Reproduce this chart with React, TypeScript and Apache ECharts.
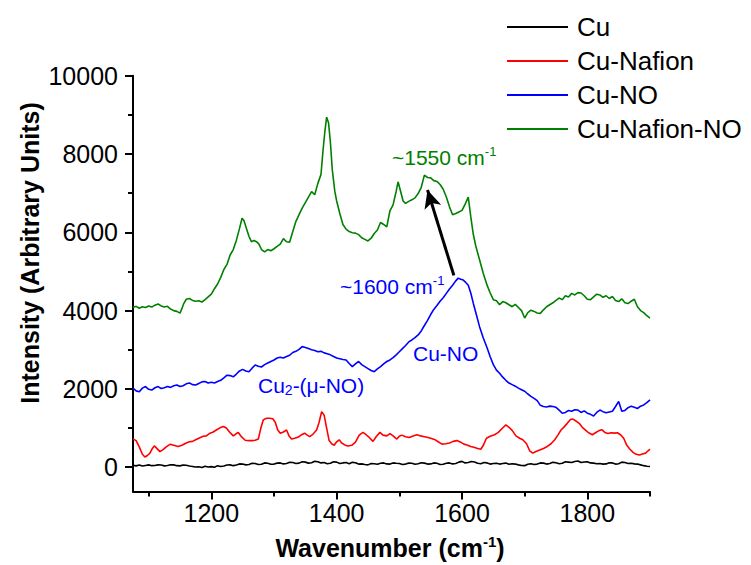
import React, { useEffect, useRef } from 'react';
import * as echarts from 'echarts';

const FONT = 'Liberation Sans, Arial, Helvetica, sans-serif';

const seriesNames = ['Cu', 'Cu-Nafion', 'Cu-NO', 'Cu-Nafion-NO'];
const seriesColors = ['#000000', '#ff0000', '#0000ff', '#008000'];

const xMajorTicks = [1200, 1400, 1600, 1800];
const xMinorTicks = [1100, 1300, 1500, 1700, 1900];
const yMajorTicks = [0, 2000, 4000, 6000, 8000, 10000];
const yMinorTicks = [1000, 3000, 5000, 7000, 9000];

const cu: [number, number][] = [
  [1075, 50], [1080, 35], [1085, 55], [1090, 30], [1095, 45], [1100, 60], [1105, 40], [1110, 45], [1115, 60], [1120, 55],
  [1125, 35], [1130, 45], [1135, 65], [1140, 60], [1145, 40], [1150, 35], [1155, 55], [1160, 50], [1165, 30], [1170, 20],
  [1175, 5], [1180, 10], [1185, -5], [1190, 25], [1195, 5], [1200, 15], [1205, 0], [1210, 40], [1215, 20], [1220, 30],
  [1225, 55], [1230, 60], [1235, 40], [1240, 55], [1245, 85], [1250, 80], [1255, 60], [1260, 70], [1265, 100], [1270, 95],
  [1275, 70], [1280, 75], [1285, 110], [1290, 100], [1295, 75], [1300, 80], [1305, 105], [1310, 110], [1315, 85], [1320, 95],
  [1325, 125], [1330, 120], [1335, 95], [1340, 105], [1345, 140], [1350, 130], [1355, 105], [1360, 115], [1365, 150], [1370, 140],
  [1375, 110], [1380, 120], [1385, 90], [1390, 100], [1395, 140], [1400, 130], [1405, 95], [1410, 110], [1415, 120], [1420, 90],
  [1425, 125], [1430, 115], [1435, 80], [1440, 85], [1445, 70], [1450, 60], [1455, 95], [1460, 90], [1465, 75], [1470, 100],
  [1475, 110], [1480, 85], [1485, 80], [1490, 110], [1495, 100], [1500, 95], [1505, 70], [1510, 80], [1515, 105], [1520, 100],
  [1525, 75], [1530, 90], [1535, 115], [1540, 105], [1545, 80], [1550, 85], [1555, 110], [1560, 100], [1565, 70], [1570, 75],
  [1575, 100], [1580, 110], [1585, 85], [1590, 95], [1595, 130], [1600, 150], [1605, 110], [1610, 120], [1615, 145], [1620, 135],
  [1625, 100], [1630, 90], [1635, 120], [1640, 110], [1645, 80], [1650, 95], [1655, 100], [1660, 80], [1665, 95], [1670, 105],
  [1675, 75], [1680, 90], [1685, 80], [1690, 60], [1695, 45], [1700, 40], [1705, 75], [1710, 90], [1715, 70], [1720, 80],
  [1725, 110], [1730, 105], [1735, 80], [1740, 95], [1745, 125], [1750, 115], [1755, 90], [1760, 100], [1765, 140], [1770, 130],
  [1775, 120], [1780, 145], [1785, 160], [1790, 120], [1795, 135], [1800, 140], [1805, 110], [1810, 105], [1815, 90], [1820, 95],
  [1825, 80], [1830, 85], [1835, 115], [1840, 110], [1845, 80], [1850, 90], [1855, 130], [1860, 120], [1865, 95], [1870, 100],
  [1875, 85], [1880, 80], [1885, 60], [1890, 40], [1895, 25], [1900, 20],
];

const cuNafion: [number, number][] = [
  [1075, 720], [1080, 680], [1085, 520], [1090, 330], [1094, 260], [1098, 300], [1102, 360], [1106, 480], [1109, 545], [1113, 480],
  [1118, 400], [1123, 450], [1128, 520], [1134, 585], [1140, 560], [1147, 530], [1153, 560], [1160, 620], [1165, 650], [1170, 660],
  [1175, 700], [1180, 740], [1187, 790], [1192, 800], [1198, 870], [1203, 900], [1208, 950], [1213, 1000], [1219, 1040], [1224, 1000],
  [1229, 900], [1235, 800], [1240, 860], [1243, 885], [1248, 780], [1254, 690], [1260, 680], [1265, 680], [1270, 690], [1275, 720],
  [1279, 1000], [1283, 1210], [1288, 1250], [1293, 1250], [1298, 1240], [1302, 1150], [1306, 950], [1310, 870], [1315, 900], [1320, 950],
  [1324, 800], [1328, 720], [1333, 740], [1339, 770], [1344, 830], [1349, 870], [1353, 820], [1357, 780], [1362, 840], [1368, 950],
  [1372, 1150], [1376, 1420], [1380, 1330], [1384, 1000], [1388, 680], [1392, 600], [1396, 560], [1400, 650], [1404, 700], [1408, 620],
  [1413, 570], [1418, 540], [1424, 560], [1430, 640], [1436, 820], [1442, 890], [1447, 830], [1452, 760], [1458, 660], [1463, 780],
  [1469, 890], [1474, 820], [1480, 800], [1485, 860], [1490, 800], [1496, 720], [1500, 790], [1504, 820], [1510, 780], [1516, 760],
  [1522, 800], [1528, 830], [1534, 800], [1540, 780], [1546, 760], [1550, 740], [1556, 710], [1562, 650], [1568, 590], [1574, 600],
  [1580, 620], [1586, 660], [1592, 680], [1598, 640], [1603, 590], [1608, 570], [1614, 530], [1619, 510], [1625, 480], [1630, 460],
  [1634, 560], [1639, 740], [1645, 790], [1652, 830], [1658, 890], [1664, 990], [1670, 1080], [1675, 1020], [1680, 940], [1686, 800],
  [1692, 740], [1697, 700], [1703, 600], [1708, 420], [1713, 360], [1718, 400], [1724, 440], [1730, 480], [1736, 530], [1742, 600],
  [1748, 700], [1753, 820], [1758, 950], [1763, 1030], [1768, 1120], [1773, 1220], [1777, 1230], [1782, 1180], [1787, 1120], [1792, 1020],
  [1797, 950], [1802, 880], [1808, 830], [1813, 880], [1818, 930], [1823, 960], [1828, 890], [1833, 860], [1838, 880], [1843, 870],
  [1848, 880], [1853, 830], [1858, 740], [1863, 560], [1868, 460], [1873, 380], [1878, 330], [1883, 310], [1888, 340], [1893, 360],
  [1897, 420], [1900, 460],
];

const cuNO: [number, number][] = [
  [1075, 2020], [1080, 1950], [1085, 1930], [1090, 2020], [1095, 2060], [1100, 1990], [1105, 1970], [1110, 2030], [1115, 2060], [1120, 2010],
  [1125, 2030], [1130, 2060], [1135, 2040], [1140, 2080], [1145, 2100], [1150, 2060], [1155, 2080], [1160, 2130], [1165, 2150], [1170, 2110],
  [1175, 2100], [1180, 2140], [1185, 2180], [1190, 2190], [1195, 2150], [1200, 2170], [1205, 2150], [1210, 2190], [1215, 2220], [1220, 2280],
  [1225, 2350], [1230, 2340], [1235, 2310], [1240, 2380], [1245, 2460], [1250, 2500], [1255, 2460], [1260, 2440], [1265, 2530], [1270, 2610],
  [1275, 2580], [1280, 2560], [1285, 2620], [1290, 2660], [1295, 2700], [1300, 2740], [1305, 2790], [1310, 2810], [1315, 2790], [1320, 2830],
  [1325, 2860], [1330, 2930], [1335, 2960], [1340, 3010], [1345, 3080], [1350, 3060], [1355, 3030], [1360, 3000], [1365, 2980], [1370, 2950],
  [1375, 2960], [1380, 2920], [1385, 2900], [1390, 2870], [1395, 2830], [1400, 2790], [1405, 2770], [1410, 2750], [1415, 2740], [1420, 2650],
  [1425, 2570], [1430, 2640], [1435, 2700], [1440, 2620], [1445, 2570], [1450, 2520], [1455, 2470], [1460, 2440], [1465, 2510], [1470, 2570],
  [1475, 2640], [1480, 2700], [1485, 2740], [1490, 2800], [1495, 2870], [1500, 2950], [1505, 3030], [1510, 3110], [1515, 3200], [1520, 3250],
  [1525, 3310], [1530, 3380], [1535, 3480], [1540, 3620], [1545, 3750], [1550, 3900], [1555, 4030], [1560, 4130], [1565, 4240], [1570, 4330],
  [1575, 4440], [1580, 4550], [1585, 4650], [1590, 4760], [1594, 4830], [1598, 4800], [1602, 4780], [1606, 4720], [1610, 4650], [1614, 4450],
  [1618, 4190], [1622, 3950], [1628, 3590], [1634, 3300], [1640, 3050], [1645, 2820], [1650, 2620], [1655, 2480], [1660, 2400], [1665, 2300],
  [1670, 2220], [1675, 2150], [1680, 2110], [1685, 2070], [1690, 2020], [1695, 1980], [1700, 1940], [1705, 1870], [1710, 1810], [1715, 1760],
  [1720, 1700], [1725, 1580], [1730, 1550], [1735, 1540], [1740, 1560], [1745, 1550], [1750, 1530], [1755, 1460], [1760, 1380], [1765, 1400],
  [1770, 1450], [1775, 1430], [1780, 1470], [1785, 1460], [1790, 1400], [1795, 1440], [1800, 1380], [1805, 1350], [1810, 1310], [1815, 1400],
  [1820, 1460], [1825, 1420], [1830, 1390], [1835, 1410], [1840, 1430], [1845, 1550], [1850, 1680], [1855, 1430], [1860, 1450], [1865, 1520],
  [1870, 1560], [1875, 1530], [1880, 1500], [1885, 1560], [1890, 1590], [1895, 1650], [1900, 1720],
];

const cuNafionNO: [number, number][] = [
  [1075, 4080], [1080, 4110], [1085, 4060], [1090, 4100], [1095, 4080], [1100, 4120], [1105, 4090], [1110, 4140], [1115, 4170], [1120, 4120],
  [1125, 4090], [1130, 4110], [1135, 4040], [1140, 4000], [1145, 3980], [1150, 3935], [1153, 4050], [1156, 4180], [1160, 4290], [1165, 4310],
  [1170, 4260], [1175, 4240], [1180, 4250], [1185, 4220], [1190, 4280], [1195, 4350], [1200, 4420], [1205, 4560], [1210, 4680], [1215, 4850],
  [1220, 5050], [1225, 5180], [1230, 5420], [1235, 5560], [1240, 5800], [1245, 6100], [1249, 6360], [1252, 6300], [1256, 6100], [1260, 5900],
  [1264, 5760], [1268, 5790], [1272, 5760], [1276, 5700], [1280, 5560], [1285, 5500], [1290, 5560], [1295, 5530], [1300, 5580], [1305, 5640],
  [1310, 5700], [1315, 5840], [1320, 5760], [1325, 5750], [1330, 6020], [1335, 6280], [1340, 6450], [1345, 6620], [1350, 6760], [1355, 6900],
  [1360, 7040], [1365, 6960], [1370, 7250], [1375, 7480], [1378, 8050], [1381, 8550], [1384, 8940], [1387, 8800], [1390, 8300], [1393, 7600],
  [1397, 7050], [1400, 6800], [1405, 6480], [1410, 6200], [1415, 6080], [1420, 6020], [1425, 5990], [1430, 5980], [1435, 5940], [1440, 5860],
  [1445, 5820], [1450, 5780], [1455, 5850], [1460, 5970], [1465, 6060], [1470, 6250], [1475, 6200], [1480, 6140], [1485, 6550], [1490, 6700],
  [1495, 7050], [1498, 7290], [1502, 7050], [1506, 6800], [1510, 6740], [1515, 6790], [1520, 6830], [1525, 6880], [1530, 6990], [1535, 7150],
  [1540, 7460], [1545, 7400], [1550, 7390], [1555, 7320], [1560, 7300], [1565, 7220], [1570, 7100], [1575, 6900], [1580, 6650], [1585, 6450],
  [1590, 6480], [1595, 6520], [1600, 6560], [1605, 6720], [1610, 6900], [1614, 6400], [1618, 5950], [1622, 5650], [1628, 5300], [1634, 4950],
  [1640, 4650], [1645, 4450], [1650, 4280], [1655, 4250], [1660, 4150], [1665, 4230], [1670, 4200], [1675, 4150], [1680, 4100], [1685, 4160],
  [1690, 4080], [1695, 4000], [1700, 3810], [1705, 3950], [1710, 4010], [1715, 3980], [1720, 3940], [1725, 3930], [1730, 4020], [1735, 4100],
  [1740, 4150], [1745, 4200], [1750, 4260], [1755, 4320], [1760, 4280], [1765, 4380], [1770, 4350], [1775, 4440], [1780, 4400], [1785, 4460],
  [1790, 4450], [1795, 4380], [1800, 4290], [1805, 4280], [1810, 4350], [1815, 4420], [1820, 4400], [1825, 4340], [1830, 4380], [1835, 4310],
  [1840, 4360], [1845, 4260], [1850, 4230], [1855, 4300], [1860, 4200], [1865, 4180], [1870, 4240], [1875, 4290], [1880, 4100], [1885, 4000],
  [1890, 3950], [1895, 3870], [1900, 3810],
];

const seriesData = [cu, cuNafion, cuNO, cuNafionNO];

// arrow from the Cu-NO peak to the Cu-Nafion-NO band (data coordinates)
const arrowStart: [number, number] = [1587, 4900];
const arrowEnd: [number, number] = [1545, 7080];

export default function App() {
  const ref = useRef<HTMLDivElement>(null);

  useEffect(() => {
    if (!ref.current) return;
    const chart = echarts.init(ref.current, null, { renderer: 'svg' });

    const axisLineStyle = { color: '#000', width: 2 };
    const plain = (v: number) => String(v);

    const series: any[] = seriesNames.map((name, i) => ({
      name,
      type: 'line',
      xAxisIndex: 0,
      yAxisIndex: 0,
      data: seriesData[i],
      symbol: 'none',
      showSymbol: false,
      smooth: false,
      lineStyle: { color: seriesColors[i], width: 1.6 },
      itemStyle: { color: seriesColors[i] },
      emphasis: { disabled: true },
      silent: true,
      z: 2 + i,
    }));

    series[3].markLine = {
      silent: true,
      symbol: ['none', 'arrow'],
      symbolSize: [13, 18],
      label: { show: false },
      lineStyle: { color: '#000', width: 3, type: 'solid' },
      emphasis: { disabled: true },
      data: [[{ coord: arrowStart }, { coord: arrowEnd }]],
    };

    const option: any = {
      animation: false,
      backgroundColor: '#ffffff',
      textStyle: { fontFamily: FONT },
      grid: { left: 133, right: 101, top: 75.7, bottom: 73.5, containLabel: false },
      legend: {
        data: seriesNames.map((name) => ({ name, icon: 'rect' })),
        orient: 'vertical',
        left: 507,
        top: 12,
        padding: 0,
        itemWidth: 61,
        itemHeight: 2,
        itemGap: 4,
        selectedMode: false,
        textStyle: { fontSize: 26, lineHeight: 30, color: '#000', fontFamily: FONT, padding: [0, 0, 0, 4] },
      },
      xAxis: [
        {
          type: 'value',
          min: 1075,
          max: 1900,
          position: 'bottom',
          axisLine: { show: true, onZero: false, lineStyle: axisLineStyle },
          axisTick: { show: true, inside: false, length: 8, customValues: xMajorTicks, lineStyle: axisLineStyle },
          axisLabel: { show: true, customValues: xMajorTicks, formatter: plain, fontSize: 25, color: '#000', margin: 9, fontFamily: FONT },
          splitLine: { show: false },
        },
        {
          type: 'value',
          min: 1075,
          max: 1900,
          position: 'bottom',
          axisLine: { show: false, onZero: false },
          axisTick: { show: true, inside: false, length: 5, customValues: xMinorTicks, lineStyle: axisLineStyle },
          axisLabel: { show: false },
          splitLine: { show: false },
        },
      ],
      yAxis: [
        {
          type: 'value',
          min: -620,
          max: 10000,
          position: 'left',
          axisLine: { show: true, onZero: false, lineStyle: axisLineStyle },
          axisTick: { show: true, inside: false, length: 8, customValues: yMajorTicks, lineStyle: axisLineStyle },
          axisLabel: { show: true, customValues: yMajorTicks, formatter: plain, fontSize: 25, color: '#000', margin: 15, fontFamily: FONT },
          splitLine: { show: false },
        },
        {
          type: 'value',
          min: -620,
          max: 10000,
          position: 'left',
          axisLine: { show: false, onZero: false },
          axisTick: { show: true, inside: false, length: 5, customValues: yMinorTicks, lineStyle: axisLineStyle },
          axisLabel: { show: false },
          splitLine: { show: false },
        },
      ],
      series,
      graphic: [
        {
          type: 'text',
          x: 30,
          y: 253,
          rotation: Math.PI / 2,
          style: {
            text: 'Intensity (Arbitrary Units)',
            fill: '#000',
            font: `bold 25px ${FONT}`,
            align: 'center',
            verticalAlign: 'middle',
          },
        },
        {
          type: 'text',
          x: 390,
          y: 548,
          style: {
            text: '{m|Wavenumber (cm}{s|-1}{m|)}',
            fill: '#000',
            align: 'center',
            verticalAlign: 'middle',
            rich: {
              m: { fontFamily: FONT, fontWeight: 'bold', fontSize: 25, fill: '#000', lineHeight: 28 },
              s: { fontFamily: FONT, fontWeight: 'bold', fontSize: 15, fill: '#000', verticalAlign: 'top', lineHeight: 28 },
            },
          },
        },
        {
          type: 'text',
          x: 392,
          y: 157,
          style: {
            text: '{m|~1550 cm}{s|-1}',
            align: 'left',
            verticalAlign: 'middle',
            rich: {
              m: { fontFamily: FONT, fontSize: 21, fill: '#008000', lineHeight: 24 },
              s: { fontFamily: FONT, fontSize: 13, fill: '#008000', verticalAlign: 'top', lineHeight: 24 },
            },
          },
        },
        {
          type: 'text',
          x: 340,
          y: 286,
          style: {
            text: '{m|~1600 cm}{s|-1}',
            align: 'left',
            verticalAlign: 'middle',
            rich: {
              m: { fontFamily: FONT, fontSize: 21, fill: '#0000ff', lineHeight: 24 },
              s: { fontFamily: FONT, fontSize: 13, fill: '#0000ff', verticalAlign: 'top', lineHeight: 24 },
            },
          },
        },
        {
          type: 'text',
          x: 413,
          y: 353,
          style: {
            text: 'Cu-NO',
            fill: '#0000ff',
            font: `21px ${FONT}`,
            align: 'left',
            verticalAlign: 'middle',
          },
        },
        {
          type: 'text',
          x: 258,
          y: 385,
          style: {
            text: '{m|Cu}{s|2}{m|-(μ-NO)}',
            align: 'left',
            verticalAlign: 'middle',
            rich: {
              m: { fontFamily: FONT, fontSize: 21, fill: '#0000ff', lineHeight: 24 },
              s: { fontFamily: FONT, fontSize: 14, fill: '#0000ff', verticalAlign: 'bottom', lineHeight: 24 },
            },
          },
        },
      ],
    };

    chart.setOption(option);
    return () => chart.dispose();
  }, []);

  return (
    <div
      ref={ref}
      style={{ position: 'fixed', left: 0, top: 0, width: 751, height: 565, background: '#fff' }}
    />
  );
}
